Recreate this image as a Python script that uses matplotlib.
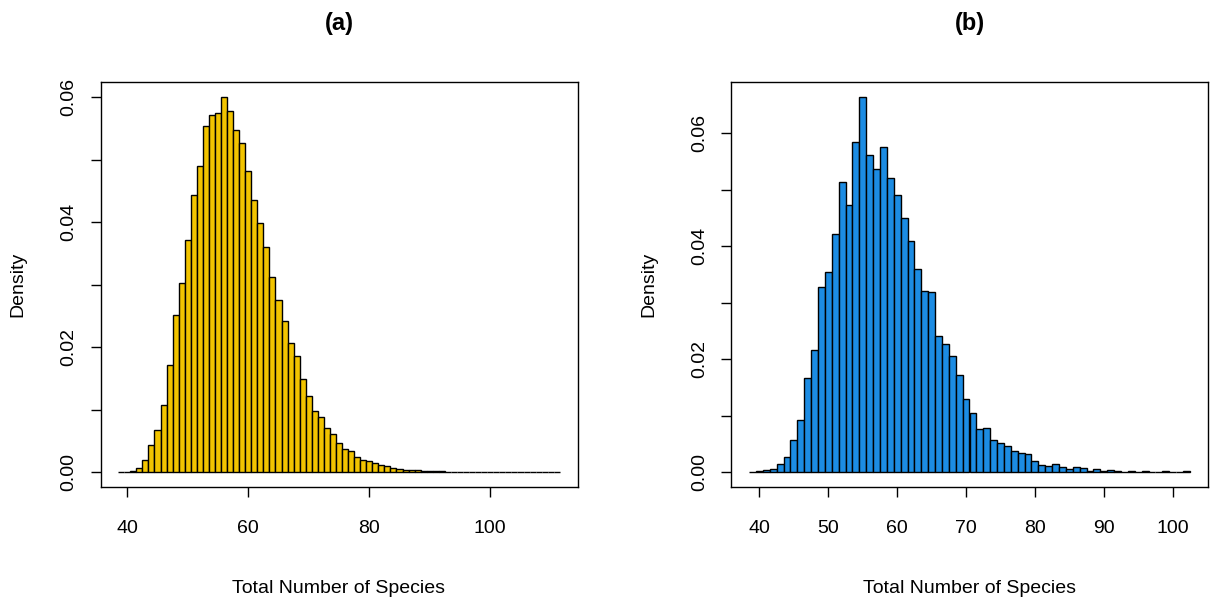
import matplotlib.pyplot as plt

plt.rcParams['font.family'] = ['Liberation Sans', 'DejaVu Sans']

# bin centres (width 1) and densities
bins_a = list(range(39, 112))
dens_a = [0.00002, 0.00005, 0.0002, 0.0007, 0.0020, 0.0043, 0.0068, 0.0108, 0.0172, 0.0252,
          0.0303, 0.0372, 0.0443, 0.0490, 0.0554, 0.0572, 0.0575, 0.0600, 0.0577, 0.0547,
          0.0527, 0.0481, 0.0436, 0.0399, 0.0360, 0.0312, 0.0276, 0.0241, 0.0206, 0.0185,
          0.0149, 0.0122, 0.0098, 0.0088, 0.0071, 0.0061, 0.0047, 0.0037, 0.0033, 0.0024,
          0.0020, 0.0018, 0.0015, 0.0011, 0.0010, 0.0007, 0.0005, 0.0004, 0.0004, 0.0003,
          0.0002, 0.00015, 0.0001, 0.0001, 0.00008, 0.00006, 0.00008, 0.00005, 0.00003, 0.00003,
          0.00002, 0.00003, 0.00002, 0.00002, 0.00002, 0.00002, 0.00002, 0.00002, 0.00002, 0.00002,
          0.00002, 0.00002, 0.00002]

bins_b = list(range(39, 103))
dens_b = [0.00005, 0.0001, 0.0003, 0.0006, 0.0014, 0.0027, 0.0056, 0.0092, 0.0167, 0.0216,
          0.0328, 0.0354, 0.0422, 0.0514, 0.0472, 0.0585, 0.0664, 0.0562, 0.0536, 0.0576,
          0.0520, 0.0490, 0.0450, 0.0409, 0.0359, 0.0320, 0.0318, 0.0241, 0.0227, 0.0205,
          0.0172, 0.0130, 0.0105, 0.0076, 0.0078, 0.0056, 0.0051, 0.0046, 0.0037, 0.0034,
          0.0031, 0.0020, 0.0013, 0.0011, 0.0015, 0.0009, 0.0005, 0.0008, 0.0007, 0.0002,
          0.0005, 0.0001, 0.0004, 0.0001, 0.00005, 0.0001, 0.00005, 0.0001, 0.00001, 0.00002,
          0.0001, 0.00002, 0.00002, 0.0001]

xticks_a = [40, 60, 80, 100]
xticks_b = [40, 50, 60, 70, 80, 90, 100]
yticks = [0.0, 0.01, 0.02, 0.03, 0.04, 0.05, 0.06]
ylabels = ['0.00', '', '0.02', '', '0.04', '', '0.06']


def draw_panel(ax, bins, dens, color, xticks, title):
    ax.bar(bins, dens, width=1.0, color=color, edgecolor='black', linewidth=1.0)
    lo, hi = bins[0] - 0.5, bins[-1] + 0.5
    ext = (hi - lo) * 0.04
    ax.set_xlim(lo - ext, hi + ext)
    top = max(dens)
    ax.set_ylim(-top * 0.04, top * 1.04)
    ax.set_xticks(xticks)
    ax.set_yticks(yticks)
    ax.set_yticklabels(ylabels, rotation=90, va='center')
    ax.tick_params(direction='out', length=7, width=1.0, labelsize=14)
    ax.tick_params(axis='x', pad=17)
    ax.tick_params(axis='y', pad=10)
    for s in ax.spines.values():
        s.set_linewidth(1.0)
    ax.text(0.5, -0.25, 'Total Number of Species', transform=ax.transAxes,
            ha='center', va='center', fontsize=14)
    ax.text(-0.173, 0.5, 'Density', transform=ax.transAxes, rotation=90,
            ha='center', va='center', fontsize=14)
    ax.text(0.5, 1.145, title, transform=ax.transAxes, ha='center', va='center',
            fontsize=17, fontweight='bold')


fig = plt.figure(figsize=(12.1, 6.06), dpi=100)
ax1 = fig.add_axes([100.5 / 1210, 119 / 606, 477 / 1210, 405 / 606])
ax2 = fig.add_axes([731.5 / 1210, 119 / 606, 476 / 1210, 405 / 606])

draw_panel(ax1, bins_a, dens_a, '#F2C400', xticks_a, '(a)')
draw_panel(ax2, bins_b, dens_b, '#1C8CE3', xticks_b, '(b)')

fig.savefig('out.png', dpi=100)
